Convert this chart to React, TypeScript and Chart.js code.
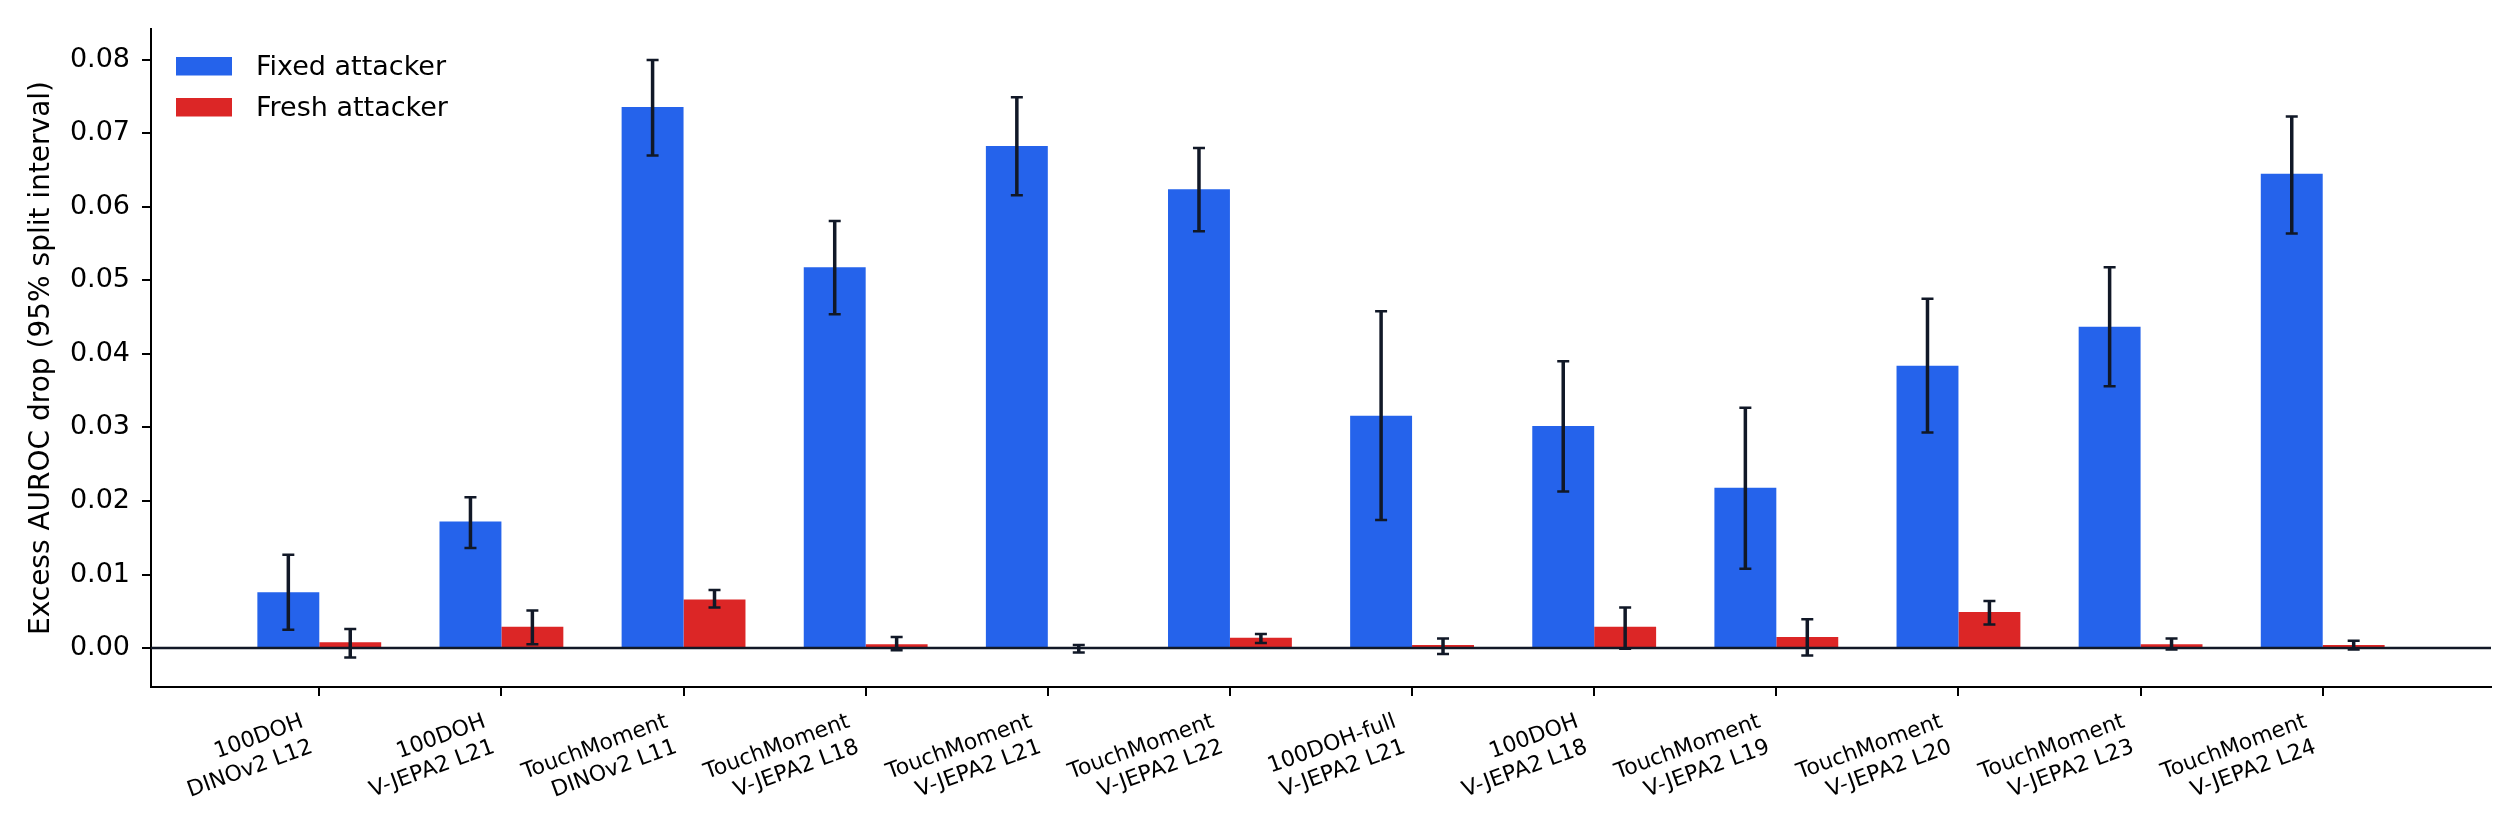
import React, { useEffect, useRef } from "react";
import { Chart, registerables, Plugin } from "chart.js";

Chart.register(...registerables);

const categories: string[][] = [
  ["100DOH", "DINOv2 L12"],
  ["100DOH", "V-JEPA2 L21"],
  ["TouchMoment", "DINOv2 L11"],
  ["TouchMoment", "V-JEPA2 L18"],
  ["TouchMoment", "V-JEPA2 L21"],
  ["TouchMoment", "V-JEPA2 L22"],
  ["100DOH-full", "V-JEPA2 L21"],
  ["100DOH", "V-JEPA2 L18"],
  ["TouchMoment", "V-JEPA2 L19"],
  ["TouchMoment", "V-JEPA2 L20"],
  ["TouchMoment", "V-JEPA2 L23"],
  ["TouchMoment", "V-JEPA2 L24"],
];

const fixedValues = [0.0076, 0.0172, 0.0736, 0.0518, 0.0683, 0.0624, 0.0316, 0.0302, 0.0218, 0.0384, 0.0437, 0.0645];
const fixedLow = [0.0025, 0.0136, 0.067, 0.0454, 0.0616, 0.0567, 0.0174, 0.0213, 0.0108, 0.0293, 0.0356, 0.0564];
const fixedHigh = [0.0127, 0.0205, 0.08, 0.0581, 0.0749, 0.068, 0.0458, 0.039, 0.0327, 0.0475, 0.0518, 0.0723];

const freshValues = [0.0008, 0.0029, 0.0066, 0.0005, -0.0001, 0.0014, 0.0004, 0.0029, 0.0015, 0.0049, 0.0005, 0.0004];
const freshLow = [-0.0013, 0.0005, 0.0055, -0.0003, -0.0006, 0.0007, -0.0008, -0.0001, -0.001, 0.0032, -0.0002, -0.0002];
const freshHigh = [0.0026, 0.0051, 0.0079, 0.0015, 0.0004, 0.0019, 0.0013, 0.0055, 0.0039, 0.0064, 0.0013, 0.001];

const yTicks = [0, 0.01, 0.02, 0.03, 0.04, 0.05, 0.06, 0.07, 0.08];

const BLUE = "#2563eb";
const RED = "#dc2626";
const INK = "#111827";
const FONT = '"DejaVu Sans"';

const errorLows = [fixedLow, freshLow];
const errorHighs = [fixedHigh, freshHigh];

// zero line + error bars on top of the bars
const errorBarPlugin: Plugin<"bar"> = {
  id: "errorBars",
  afterDatasetsDraw(chart) {
    const { ctx, chartArea, scales } = chart;
    const y = scales.y;
    ctx.save();
    const y0 = y.getPixelForValue(0);
    ctx.strokeStyle = INK;
    ctx.lineWidth = 2.5;
    ctx.beginPath();
    ctx.moveTo(chartArea.left, y0);
    ctx.lineTo(chartArea.right, y0);
    ctx.stroke();

    chart.data.datasets.forEach((_, d) => {
      const meta = chart.getDatasetMeta(d);
      meta.data.forEach((bar: any, i: number) => {
        const x = bar.x;
        const yl = y.getPixelForValue(errorLows[d][i]);
        const yh = y.getPixelForValue(errorHighs[d][i]);
        ctx.strokeStyle = INK;
        ctx.lineWidth = 3.5;
        ctx.beginPath();
        ctx.moveTo(x, yl);
        ctx.lineTo(x, yh);
        ctx.stroke();
        ctx.lineWidth = 2.5;
        ctx.beginPath();
        ctx.moveTo(x - 6, yl);
        ctx.lineTo(x + 6, yl);
        ctx.moveTo(x - 6, yh);
        ctx.lineTo(x + 6, yh);
        ctx.stroke();
      });
    });
    ctx.restore();
  },
};

// rotated two-line category labels, right edge at the tick (matplotlib style)
const xLabelPlugin: Plugin<"bar"> = {
  id: "xLabels",
  afterDraw(chart) {
    const { ctx, scales } = chart;
    const xs = scales.x;
    ctx.save();
    ctx.fillStyle = "#000";
    ctx.font = `22px ${FONT}`;
    ctx.textAlign = "right";
    ctx.textBaseline = "alphabetic";
    categories.forEach((lines, i) => {
      const px = xs.getPixelForValue(i);
      ctx.save();
      ctx.translate(px - 5.5, xs.top + 65);
      ctx.rotate((-20 * Math.PI) / 180);
      for (let k = lines.length - 1; k >= 0; k--) {
        ctx.fillText(lines[k], 0, -(lines.length - 1 - k) * 27);
      }
      ctx.restore();
    });
    ctx.restore();
  },
};

const legendPlugin: Plugin<"bar"> = {
  id: "innerLegend",
  afterDraw(chart) {
    const { ctx, chartArea } = chart;
    ctx.save();
    ctx.font = `27px ${FONT}`;
    ctx.textAlign = "left";
    ctx.textBaseline = "middle";
    chart.data.datasets.forEach((ds, d) => {
      const top = chartArea.top + 28 + d * 41;
      const left = chartArea.left + 25;
      ctx.fillStyle = ds.backgroundColor as string;
      ctx.fillRect(left, top, 56, 18.5);
      ctx.fillStyle = "#000";
      ctx.fillText(ds.label as string, chartArea.left + 105, top + 11);
    });
    ctx.restore();
  },
};

const App: React.FC = () => {
  const canvasRef = useRef<HTMLCanvasElement | null>(null);

  useEffect(() => {
    document.body.style.margin = "0";
    const ctx = canvasRef.current?.getContext("2d");
    if (!ctx) return;

    const chart = new Chart(ctx, {
      type: "bar",
      data: {
        datasets: [
          {
            label: "Fixed attacker",
            data: fixedValues.map((v, i) => ({ x: i, y: v })) as any,
            backgroundColor: BLUE,
            borderWidth: 0,
            categoryPercentage: 0.68,
            barPercentage: 1.0,
          },
          {
            label: "Fresh attacker",
            data: freshValues.map((v, i) => ({ x: i, y: v })) as any,
            backgroundColor: RED,
            borderWidth: 0,
            categoryPercentage: 0.68,
            barPercentage: 1.0,
          },
        ],
      },
      options: {
        animation: false,
        responsive: true,
        maintainAspectRatio: false,
        layout: { padding: { left: 0, right: 29, top: 29, bottom: 0 } },
        plugins: {
          legend: { display: false },
          tooltip: { enabled: false },
        },
        scales: {
          x: {
            type: "linear",
            offset: false,
            min: -0.924,
            max: 11.924,
            afterBuildTicks: (axis: any) => {
              axis.ticks = categories.map((_, i) => ({ value: i }));
            },
            afterFit: (scale: any) => {
              scale.height = 153;
            },
            ticks: { display: false },
            grid: {
              display: true,
              offset: false,
              drawOnChartArea: false,
              drawTicks: true,
              tickLength: 9,
              color: "#000",
              lineWidth: 2,
            },
            border: { display: true, color: "#000", width: 2 },
          },
          y: {
            min: -0.0053,
            max: 0.0842,
            afterBuildTicks: (axis: any) => {
              axis.ticks = yTicks.map((v) => ({ value: v }));
            },
            afterFit: (scale: any) => {
              scale.width = 151;
            },
            ticks: {
              color: "#000",
              padding: 12,
              font: { family: FONT, size: 27 },
              callback: (v: any) => Number(v).toFixed(2),
            },
            grid: {
              display: true,
              drawOnChartArea: false,
              drawTicks: true,
              tickLength: 9,
              color: "#000",
              lineWidth: 2,
            },
            border: { display: true, color: "#000", width: 2 },
            title: {
              display: true,
              text: "Excess AUROC drop (95% split interval)",
              color: "#000",
              font: { family: FONT, size: 28 },
              padding: { top: 25, bottom: 0 },
            },
          },
        },
      },
      plugins: [errorBarPlugin, xLabelPlugin, legendPlugin],
    });

    return () => {
      chart.destroy();
    };
  }, []);

  return (
    <div style={{ width: "2520px", height: "840px", position: "relative", background: "#fff" }}>
      <canvas ref={canvasRef} />
    </div>
  );
};

export default App;
